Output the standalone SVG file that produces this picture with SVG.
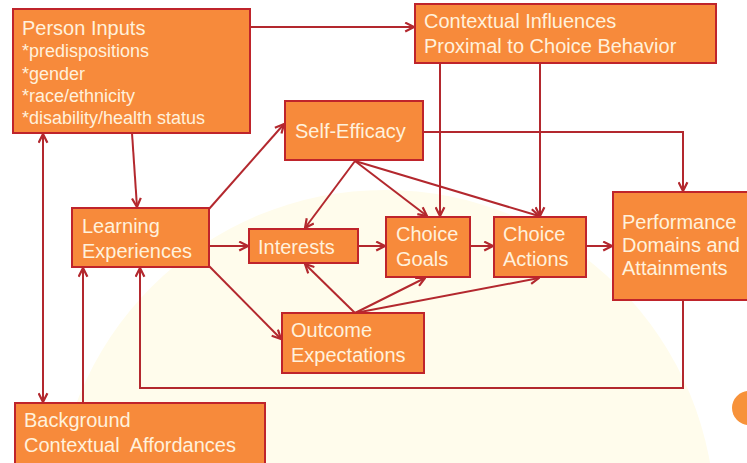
<svg xmlns="http://www.w3.org/2000/svg" width="747" height="463" viewBox="0 0 747 463">
<defs>
<marker id="ah" viewBox="0 0 10 10" refX="9" refY="5" markerWidth="11" markerHeight="11" markerUnits="userSpaceOnUse" orient="auto-start-reverse">
<path d="M1,1 L9,5 L1,9" fill="none" stroke="#B3282E" stroke-width="2"/>
</marker>
</defs>
<style>
.box{fill:#F78A3B;stroke:#BF242B;stroke-width:2}
.t{font-family:"Liberation Sans",Arial,sans-serif;font-size:20px;fill:#FFF1DC}
.s{font-size:18px}
.c{fill:none;stroke:#B3282E;stroke-width:2}
.a{marker-end:url(#ah)}
</style>
<rect x="0" y="0" width="747" height="463" fill="#FFFFFF"/>
<circle cx="385" cy="520" r="330" fill="#FFFCEC"/>
<circle cx="749" cy="408" r="17" fill="#F7923A"/>

<g id="connectors">
<line class="c a" x1="250" y1="27" x2="414" y2="27"/>
<line class="c a" x1="132" y1="133" x2="137" y2="207"/>
<line class="c a" x1="43" y1="134" x2="43" y2="402" style="marker-start:url(#ah)"/>
<line class="c a" x1="83" y1="403" x2="83" y2="268"/>
<polyline class="c a" points="683,300 683,388 140,388 140,268"/>
<line class="c a" x1="209" y1="209" x2="284" y2="124"/>
<line class="c a" x1="209" y1="246" x2="248" y2="246"/>
<line class="c a" x1="209" y1="266" x2="281" y2="339"/>
<line class="c a" x1="355" y1="161" x2="305" y2="228"/>
<line class="c a" x1="355" y1="161" x2="427" y2="216"/>
<line class="c a" x1="355" y1="161" x2="539" y2="216"/>
<polyline class="c a" points="423,132 683,132 683,191"/>
<line class="c a" x1="440" y1="63" x2="440" y2="216"/>
<line class="c a" x1="540" y1="58" x2="540" y2="216"/>
<line class="c a" x1="358" y1="246" x2="385" y2="246"/>
<line class="c a" x1="470" y1="246" x2="493" y2="246"/>
<line class="c a" x1="586" y1="246" x2="612" y2="246"/>
<line class="c a" x1="355" y1="313" x2="305" y2="264"/>
<line class="c a" x1="355" y1="313" x2="425" y2="278"/>
<line class="c a" x1="355" y1="313" x2="539" y2="278"/>
</g>

<g id="person-inputs">
<rect class="box" x="13" y="9" width="237" height="124"/>
<text class="t" x="22" y="35">Person Inputs</text>
<text class="t s" x="22" y="57">*predispositions</text>
<text class="t s" x="22" y="80">*gender</text>
<text class="t s" x="22" y="102">*race/ethnicity</text>
<text class="t s" x="22" y="124">*disability/health status</text>
</g>

<g id="contextual-influences">
<rect class="box" x="415" y="4" width="301" height="59"/>
<text class="t" x="424" y="28">Contextual Influences</text>
<text class="t" x="424" y="53">Proximal to Choice Behavior</text>
</g>

<g id="self-efficacy">
<rect class="box" x="285" y="101" width="138" height="59"/>
<text class="t" x="295" y="138">Self-Efficacy</text>
</g>

<g id="learning-experiences">
<rect class="box" x="72" y="208" width="137" height="59"/>
<text class="t" x="82" y="233">Learning</text>
<text class="t" x="82" y="258">Experiences</text>
</g>

<g id="interests">
<rect class="box" x="249" y="229" width="109" height="34"/>
<text class="t" x="258" y="254">Interests</text>
</g>

<g id="choice-goals">
<rect class="box" x="386" y="217" width="84" height="60"/>
<text class="t" x="396" y="241">Choice</text>
<text class="t" x="396" y="266">Goals</text>
</g>

<g id="choice-actions">
<rect class="box" x="494" y="217" width="92" height="60"/>
<text class="t" x="503" y="241">Choice</text>
<text class="t" x="503" y="266">Actions</text>
</g>

<g id="performance">
<rect class="box" x="613" y="192" width="140" height="108"/>
<text class="t" x="622" y="229">Performance</text>
<text class="t" x="622" y="252">Domains and</text>
<text class="t" x="622" y="275">Attainments</text>
</g>

<g id="outcome-expectations">
<rect class="box" x="282" y="313" width="142" height="60"/>
<text class="t" x="291" y="337">Outcome</text>
<text class="t" x="291" y="362">Expectations</text>
</g>

<g id="background-affordances">
<rect class="box" x="15" y="403" width="250" height="66"/>
<text class="t" x="24" y="427">Background</text>
<text class="t" x="24" y="452" xml:space="preserve">Contextual  Affordances</text>
</g>
</svg>
